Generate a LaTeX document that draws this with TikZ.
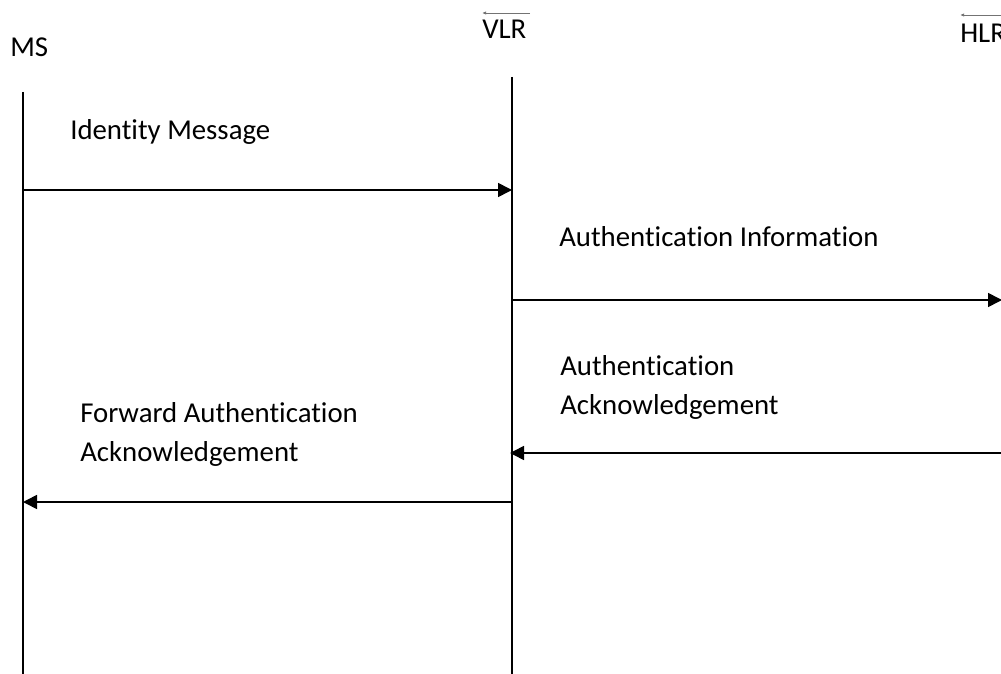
\documentclass[tikz,border=0pt]{standalone}
\usepackage{fontspec}
\setmainfont{Carlito}[Ligatures={NoCommon}]
\usetikzlibrary{arrows.meta,positioning}

\begin{document}
\begin{tikzpicture}[
  x=0.75pt, y=-0.75pt,
  lbl/.style={anchor=base west, inner sep=0pt, align=left, font=\fontsize{21.6}{29.25}\selectfont},
  life/.style={line width=1.2pt},
  msg/.style={line width=1.2pt, -{Triangle[length=10.5pt, width=10.5pt]}},
  tick/.style={draw=black!55, line width=0.6pt, -{Latex[length=3pt, width=2.5pt]}}
]
  \useasboundingbox (0,0) rectangle (1001,674);

  % entity labels
  \node[lbl] (ms) at (10,57) {MS};
  \node[lbl] (vlr) at (482,39) {VLR};
  \node[lbl] (hlr) at (960,43) {HLR};

  % small marks above the entity names
  \coordinate (vlr tick) at (530,13);
  \coordinate (hlr tick) at (1003,15);
  \draw[tick] (vlr tick) -- (vlr.north west |- vlr tick);
  \draw[tick] (hlr tick) -- (hlr.north west |- hlr tick);

  % lifelines
  \coordinate (ms top) at (23,92);
  \coordinate (ms bot) at (23,674);
  \coordinate (vlr top) at (512,77);
  \coordinate (vlr bot) at (512,674);
  \draw[life] (ms top) -- (ms bot);
  \draw[life] (vlr top) -- (vlr bot);

  % message ends
  \coordinate (ms m1) at (23,190);
  \coordinate (vlr m1) at (512,190);
  \coordinate (vlr m2) at (512,300);
  \coordinate (hlr m2) at (1002,300);
  \coordinate (hlr m3) at (1003,453);
  \coordinate (vlr m3) at (510,453);
  \coordinate (vlr m4) at (512,502);
  \coordinate (ms m4) at (23,502);

  \draw[msg] (ms m1) -- (vlr m1);
  \draw[msg] (vlr m2) -- (hlr m2);
  \draw[msg] (hlr m3) -- (vlr m3);
  \draw[msg] (vlr m4) -- (ms m4);

  % message labels
  \node[lbl] (idmsg) at (70,140) {Identity Message};
  \node[lbl] (authinfo) at (559,247) {Authentication Information};
  \node[lbl] (authack) at (560,414) {Authentication\\Acknowledgement};
  \node[lbl] (fwdack) at (80,461) {Forward Authentication\\Acknowledgement};
\end{tikzpicture}
\end{document}
